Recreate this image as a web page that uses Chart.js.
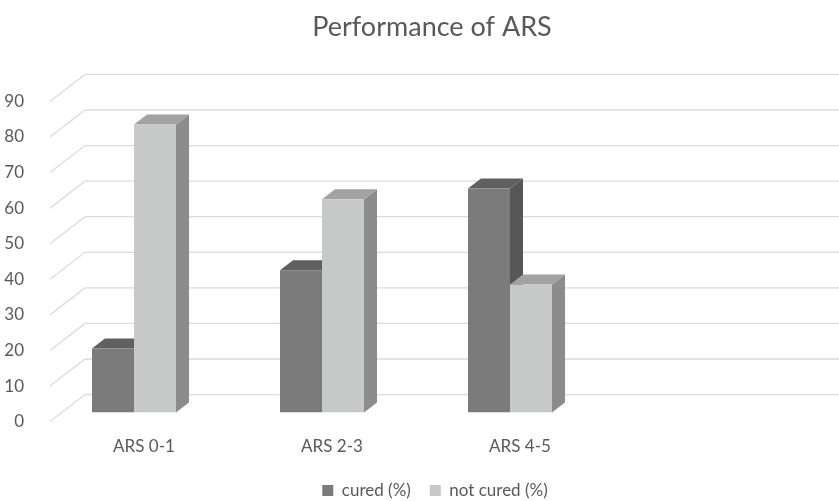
<!DOCTYPE html>
<html lang="en">

<head>
    <meta charset="UTF-8">
    <meta name="viewport" content="width=device-width, initial-scale=1.0">
    <title>Performance of ARS</title>
    <script src="https://cdn.jsdelivr.net/npm/chart.js"></script>
    <style>
        html, body { margin: 0; padding: 0; background: #fff; overflow: hidden; }
        #wrap { width: 839px; height: 501px; }
    </style>
</head>

<body>
    <div id="wrap"><canvas id="myChart"></canvas></div>
    <script>
        const categories = ['ARS 0-1', 'ARS 2-3', 'ARS 4-5'];
        const cured = [18, 40, 63];
        const notCured = [81, 60, 36];
        const yMin = 0;
        const yMax = 90;
        const yStep = 10;

        // fake 3d: offsets of the bar depth and the back wall
        const barDepth = { dx: 13, dy: -10 };
        const wallFront = { dx: 10, dy: 9 };
        const wallBack = { dx: 45, dy: -18 };

        const frontColors = ['#7b7b7b', '#c7c8c8'];
        const topColors = ['#606060', '#a2a2a2'];
        const sideColors = ['#575757', '#8c8c8c'];

        const textColor = '#595959';
        const fontFamily = 'Lato, "Open Sans", sans-serif';

        // x axis is squeezed by this much so the plot keeps its height
        const xSqueeze = 18;

        function poly(ctx, pts, color) {
            ctx.fillStyle = color;
            ctx.beginPath();
            ctx.moveTo(pts[0][0], pts[0][1]);
            for (let i = 1; i < pts.length; i++) ctx.lineTo(pts[i][0], pts[i][1]);
            ctx.closePath();
            ctx.fill();
        }

        const fake3d = {
            id: 'fake3d',
            afterLayout(chart) {
                // move title + legend to where the excel chart has them
                const t = chart.titleBlock;
                t.left = 0; t.right = 864;
                const lg = chart.legend;
                lg.left = 0; lg.right = 870;
                lg.top += 8; lg.bottom += 8;
                // give the x labels their room back (they get clipped otherwise)
                chart.scales.x.bottom += xSqueeze;
            },
            beforeDatasetsDraw(chart) {
                const { ctx, chartArea, scales: { y } } = chart;
                ctx.save();

                // back wall gridlines
                ctx.strokeStyle = '#dcdcdc';
                ctx.lineWidth = 1.3;
                y.ticks.forEach(t => {
                    const py = y.getPixelForValue(t.value);
                    ctx.beginPath();
                    ctx.moveTo(chartArea.left + wallFront.dx, py + wallFront.dy);
                    ctx.lineTo(chartArea.left + wallBack.dx, py + wallBack.dy);
                    ctx.lineTo(chart.width, py + wallBack.dy);
                    ctx.stroke();
                });

                // top and side faces of the bars
                chart.data.datasets.forEach((ds, i) => {
                    const meta = chart.getDatasetMeta(i);
                    meta.data.forEach(bar => {
                        const { x, y: top, base, width } = bar.getProps(['x', 'y', 'base', 'width'], true);
                        const l = x - width / 2;
                        const r = x + width / 2;
                        const dx = barDepth.dx, dy = barDepth.dy;
                        poly(ctx, [[r, top], [r + dx, top + dy], [r + dx, base + dy], [r, base]], sideColors[i]);
                        poly(ctx, [[l, top], [l + dx, top + dy], [r + dx, top + dy], [r, top]], topColors[i]);
                    });
                });
                ctx.restore();
            }
        };

        const ctx = document.getElementById('myChart').getContext('2d');

        const myChart = new Chart(ctx, {
            type: 'bar',
            data: {
                labels: categories,
                datasets: [{
                    label: 'cured (%)',
                    data: cured,
                    backgroundColor: frontColors[0],
                    borderWidth: 0
                }, {
                    label: 'not cured (%)',
                    data: notCured,
                    backgroundColor: frontColors[1],
                    borderWidth: 0
                }]
            },
            options: {
                responsive: true,
                maintainAspectRatio: false,
                animation: false,
                layout: {
                    padding: { left: 0, right: 235, top: 0, bottom: 0 }
                },
                datasets: {
                    bar: {
                        barPercentage: 1,
                        categoryPercentage: 0.447
                    }
                },
                scales: {
                    x: {
                        grid: { display: false },
                        border: { display: false },
                        ticks: {
                            color: textColor,
                            font: { family: fontFamily, size: 17 },
                            padding: 16,
                            labelOffset: 10
                        },
                        afterFit(scale) {
                            scale.height -= xSqueeze;
                        }
                    },
                    y: {
                        min: yMin,
                        max: yMax,
                        grid: { display: false },
                        border: { display: false },
                        ticks: {
                            stepSize: yStep,
                            color: textColor,
                            font: { family: fontFamily, size: 17 },
                            padding: 8,
                            labelOffset: 9
                        },
                        afterFit(scale) {
                            scale.width = 40;
                        }
                    }
                },
                plugins: {
                    title: {
                        display: true,
                        text: 'Performance of ARS',
                        color: textColor,
                        font: { family: fontFamily, size: 27, weight: 'normal' },
                        padding: { top: 11, bottom: 49 }
                    },
                    legend: {
                        position: 'bottom',
                        labels: {
                            color: textColor,
                            font: { family: fontFamily, size: 17 },
                            boxWidth: 11,
                            boxHeight: 11,
                            padding: 19
                        }
                    },
                    tooltip: { enabled: false }
                }
            },
            plugins: [fake3d]
        });
    </script>

</body>

</html>
